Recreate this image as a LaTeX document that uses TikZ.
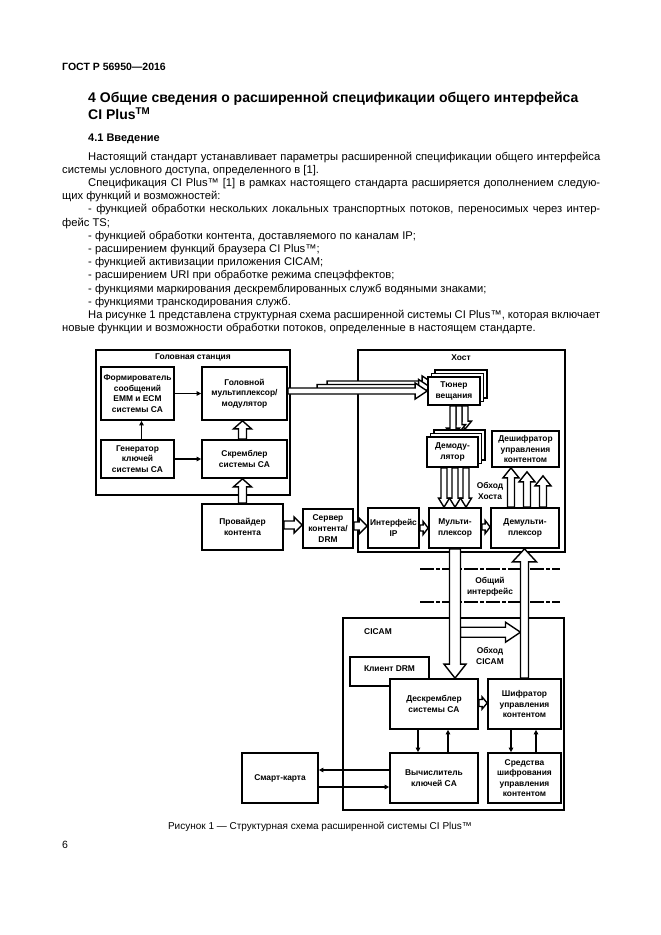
\documentclass[tikz,border=0pt]{standalone}
\usepackage{fontspec}
\setmainfont{Liberation Sans}
\usetikzlibrary{calc,arrows.meta}
\pgfdeclarelayer{bgl}
\pgfdeclarelayer{midl}
\pgfsetlayers{bgl,midl,main}
\newcommand\dft{\fontsize{8.4}{10.6}\selectfont\bfseries}
\newcommand\blockarr[5]{%
  \coordinate (bab) at ($(#2)!#5!(#1)$);
  \draw[blkarr] ($(#1)!#3!90:(#2)$) -- ($(bab)!#3!-90:(#1)$) -- ($(bab)!#4!-90:(#1)$) -- (#2) -- ($(bab)!#4!90:(#1)$) -- ($(bab)!#3!90:(#1)$) -- ($(#1)!#3!-90:(#2)$) -- cycle;}
\newcommand\bx[6]{\node[dbox, minimum width={(#4)-(#2)}, minimum height={(#5)-(#3)}] (#1) at ({((#2)+(#4))/2},{((#3)+(#5))/2}) {#6};}
\newcommand\ob[5]{\node[obox, minimum width={(#4)-(#2)}, minimum height={(#5)-(#3)}] (#1) at ({((#2)+(#4))/2},{((#3)+(#5))/2}) {};}
\begin{document}
\begin{tikzpicture}[x=1pt,y=-1pt,
  dbox/.style={draw, line width=1.7pt, fill=white, align=center, font=\dft, inner sep=1pt},
  obox/.style={draw, line width=1.6pt, inner sep=0pt},
  lbl/.style={font=\dft, align=center, inner sep=0pt},
  blkarr/.style={draw, line width=1.4pt, fill=white, line join=miter},
  tarr/.style={line width=1.7pt, -{Triangle[length=4.5pt,width=4.5pt]}},
  body/.style={anchor=mid west, inner sep=0pt, font=\fontsize{11.2}{13}\selectfont},
  ifl/.style={line width=2.2pt, dash pattern=on 14pt off 2pt on 4pt off 2pt}
]
\useasboundingbox (0,0) rectangle (661,935);
\begin{pgfonlayer}{bgl}
\fill[white] (0,0) rectangle (661,935);
\end{pgfonlayer}

% ---------- page text ----------
\node[anchor=mid west, inner sep=0pt, font=\fontsize{10.5}{12}\selectfont\bfseries] (hdr) at (62,68) {ГОСТ Р 56950—2016};
\node[anchor=mid west, inner sep=0pt, font=\fontsize{14}{15}\selectfont\bfseries] (h1) at (88,100) {4 Общие сведения о расширенной спецификации общего интерфейса};
\node[anchor=mid west, inner sep=0pt, font=\fontsize{14}{15}\selectfont\bfseries] (h2) at (88,117) {CI Plus\textsuperscript{TM}};
\node[anchor=mid west, inner sep=0pt, font=\fontsize{11}{13}\selectfont\bfseries] (h3) at (88,138.5) {4.1 Введение};

\node[body] (p1) at (88,157.5) {\makebox[512pt][s]{Настоящий стандарт устанавливает параметры расширенной спецификации общего интерфейса}};
\node[body] (p2) at (62,170.7) {системы условного доступа, определенного в [1].};
\node[body] (p3) at (88,183.9) {\makebox[512pt][s]{Спецификация CI Plus™ [1] в рамках настоящего стандарта расширяется дополнением следую-}};
\node[body] (p4) at (62,197.1) {щих функций и возможностей:};
\node[body] (p5) at (88,210.3) {\makebox[512pt][s]{- функцией обработки нескольких локальных транспортных потоков, переносимых через интер-}};
\node[body] (p6) at (62,223.5) {фейс TS;};
\node[body] (p7) at (88,236.7) {- функцией обработки контента, доставляемого по каналам IP;};
\node[body] (p8) at (88,249.9) {- расширением функций браузера CI Plus™;};
\node[body] (p9) at (88,263.1) {- функцией активизации приложения CICAM;};
\node[body] (p10) at (88,276.3) {- расширением URI при обработке режима спецэффектов;};
\node[body] (p11) at (88,289.5) {- функциями маркирования дескремблированных служб водяными знаками;};
\node[body] (p12) at (88,302.7) {- функциями транскодирования служб.};
\node[body] (p13) at (88,315.9) {\makebox[512pt][s]{На рисунке 1 представлена структурная схема расширенной системы CI Plus™, которая включает}};
\node[body] (p14) at (62,329.1) {новые функции и возможности обработки потоков, определенные в настоящем стандарте.};

\node[inner sep=0pt, font=\fontsize{10}{12}\selectfont] (cap) at (320,827) {Рисунок 1 — Структурная схема расширенной системы CI Plus™};
\node[anchor=mid west, inner sep=0pt, font=\fontsize{10.5}{12}\selectfont] (pg) at (62,846) {6};

% ---------- outer boxes ----------
\begin{pgfonlayer}{bgl}
\ob{HS}{96}{350}{290}{495}
\ob{HOST}{358}{350}{565}{552}
\ob{CICAM}{343}{618}{564}{810}
\draw[ifl] (420,569) -- (560,569);
\draw[ifl] (420,602) -- (560,602);
\end{pgfonlayer}
\node[lbl] (HSt) at (193,357) {Головная станция};
\node[lbl] (HOSTt) at (461,358) {Хост};
\node[lbl] (CICAMt) at (378,632) {CICAM};
\node[lbl] (ift) at (490,586.5) {Общий\\интерфейс};
\node[lbl] (bht) at (490,491) {Обход\\Хоста};
\node[lbl] (bct) at (490,656) {Обход\\CICAM};

% ---------- head station ----------
\bx{F}{101}{367}{174}{420}{Формирователь\\сообщений\\EMM и ECM\\системы CA}
\bx{HM}{202}{367}{287}{420}{Головной\\мультиплексор/\\модулятор}
\bx{G}{101}{440}{174}{478}{Генератор\\ключей\\системы CA}
\bx{S}{202}{440}{287}{478}{Скремблер\\системы CA}

% ---------- host ----------
\bx{T3}{435}{370}{487}{398}{}
\bx{T2}{431.5}{373.5}{483.5}{401.5}{}
\bx{T1}{428}{377}{480}{405}{Тюнер\\вещания}
\bx{D3}{434}{430}{485}{460}{}
\bx{D2}{430.5}{433.5}{481.5}{463.5}{}
\bx{D1}{427}{437}{478}{467}{Демоду-\\лятор}
\bx{DEC}{492}{431}{559}{467}{Дешифратор\\управления\\контентом}

% ---------- row ----------
\bx{PK}{202}{504}{283}{550}{Провайдер\\контента}
\bx{SR}{303}{509}{353}{548}{Сервер\\контента/\\DRM}
\bx{IP}{368}{508}{419}{548}{Интерфейс\\IP}
\bx{MX}{429}{508}{481}{548}{Мульти-\\плексор}
\bx{DX}{491}{508}{559}{548}{Демульти-\\плексор}

% ---------- CICAM ----------
\bx{DRM}{350}{657}{429}{686}{\raisebox{5pt}{Клиент DRM}}
\bx{Desc}{390}{679}{478}{729}{Дескремблер\\системы CA}
\bx{Shifr}{488}{679}{561}{729}{Шифратор\\управления\\контентом}
\bx{Vych}{390}{753}{478}{803}{Вычислитель\\ключей CA}
\bx{Sred}{488}{753}{561}{803}{Средства\\шифрования\\управления\\контентом}
\bx{Smart}{242}{753}{318}{803}{Смарт-карта}

% ---------- thin arrows ----------
\draw[tarr] (F) -- (HM);
\draw[tarr] ($(G.north)+(4,0)$) -- ($(F.south)+(4,0)$);
\draw[tarr] (G) -- (S);
\draw[tarr] ($(Desc.south)+(-16,0)$) -- ($(Vych.north)+(-16,0)$);
\draw[tarr] ($(Vych.north)+(14,0)$) -- ($(Desc.south)+(14,0)$);
\draw[tarr] ($(Shifr.south)+(-13.5,0)$) -- ($(Sred.north)+(-13.5,0)$);
\draw[tarr] ($(Sred.north)+(11.5,0)$) -- ($(Shifr.south)+(11.5,0)$);
\draw[tarr] ($(Vych.west)+(0,-8)$) -- ($(Smart.east)+(0,-8)$);
\draw[tarr] ($(Smart.east)+(0,9)$) -- ($(Vych.west)+(0,9)$);

% ---------- block arrows ----------
\coordinate (sh1) at ($(S.north)+(-2,0)$);
\coordinate (sh2) at ($(HM.south)+(-2,0)$);
\coordinate (pk1) at (PK.north);
\coordinate (pk2) at (PK.north |- S.south);
\coordinate (ba1s) at (HM.east |- T1.west);
\coordinate (ba1e) at (T1.west);
\coordinate (ba2s) at ($(T2.west)+(-113.5,0)$);
\coordinate (ba2e) at (T2.west);
\coordinate (ba3s) at ($(T3.west)+(-107,0)$);
\coordinate (ba3e) at (T3.west);
\coordinate (ta1s) at ($(T1.south)+(-1,0)$);
\coordinate (ta1e) at (ta1s |- D1.north);
\coordinate (ta2s) at ($(T1.south)+(5,0)$);
\coordinate (ta2e) at (ta2s |- D2.north);
\coordinate (ta3s) at ($(T1.south)+(11,0)$);
\coordinate (ta3e) at (ta3s |- D3.north);
\coordinate (dm1e) at ($(MX.north)+(-11,0)$);
\coordinate (dm1s) at (dm1e |- D1.south);
\coordinate (dm2e) at (MX.north);
\coordinate (dm2s) at (dm2e |- D1.south);
\coordinate (dm3e) at ($(MX.north)+(11,0)$);
\coordinate (dm3s) at (dm3e |- D1.south);
\coordinate (du1s) at ($(DX.north)+(-14,0)$);
\coordinate (du1e) at (du1s |- DEC.south);
\coordinate (du2s) at ($(DX.north)+(2,0)$);
\coordinate (du2e) at ($(du2s |- DEC.south)+(0,4)$);
\coordinate (du3s) at ($(DX.north)+(18,0)$);
\coordinate (du3e) at ($(du3s |- DEC.south)+(0,8)$);
\coordinate (r1s) at ($(PK.east)+(0,-2)$);
\coordinate (r1e) at (r1s -| SR.west);
\coordinate (r2s) at ($(SR.east)+(0,-2.5)$);
\coordinate (r2e) at (r2s -| IP.west);
\coordinate (r3s) at (IP.east);
\coordinate (r3e) at (r3s -| MX.west);
\coordinate (r4s) at ($(MX.east)+(0,-1)$);
\coordinate (r4e) at (r4s -| DX.west);
\coordinate (md1) at (MX.south);
\coordinate (md2) at (MX.south |- Desc.north);
\coordinate (su1) at (Shifr.north);
\coordinate (su2) at (Shifr.north |- DX.south);
\coordinate (bc1) at ($(MX.south |- CICAM.north)+(5.5,15)$);
\coordinate (bc2) at ($(Shifr.north |- CICAM.north)+(-4,15)$);
\coordinate (ds1) at ($(Desc.east)+(0,-1)$);
\coordinate (ds2) at (ds1 -| Shifr.west);

\begin{pgfonlayer}{midl}
\blockarr{sh1}{sh2}{4pt}{9pt}{8pt}
\blockarr{pk1}{pk2}{4pt}{9pt}{8pt}
\blockarr{ba3s}{ba3e}{3pt}{8pt}{12pt}
\blockarr{ba2s}{ba2e}{3pt}{8pt}{12pt}
\blockarr{ba1s}{ba1e}{3pt}{8pt}{12pt}
\blockarr{ta3s}{ta3e}{3pt}{6.5pt}{8pt}
\blockarr{ta2s}{ta2e}{3pt}{6.5pt}{8pt}
\blockarr{ta1s}{ta1e}{3pt}{6.5pt}{8pt}
\blockarr{dm1s}{dm1e}{3pt}{5.5pt}{9pt}
\blockarr{dm2s}{dm2e}{3pt}{5.5pt}{9pt}
\blockarr{dm3s}{dm3e}{3pt}{5.5pt}{9pt}
\blockarr{du1s}{du1e}{3.5pt}{8pt}{10pt}
\blockarr{du2s}{du2e}{3.5pt}{8pt}{10pt}
\blockarr{du3s}{du3e}{3.5pt}{8pt}{10pt}
\blockarr{r1s}{r1e}{4pt}{8pt}{8pt}
\blockarr{r2s}{r2e}{4pt}{8pt}{8pt}
\blockarr{r3s}{r3e}{3pt}{6.5pt}{5pt}
\blockarr{r4s}{r4e}{3pt}{6.5pt}{5pt}
\blockarr{bc1}{bc2}{5pt}{10pt}{15pt}
\blockarr{md1}{md2}{5.5pt}{11pt}{14pt}
\blockarr{su1}{su2}{4pt}{12pt}{13pt}
\blockarr{ds1}{ds2}{3.5pt}{6pt}{5pt}
\end{pgfonlayer}
\end{tikzpicture}
\end{document}
